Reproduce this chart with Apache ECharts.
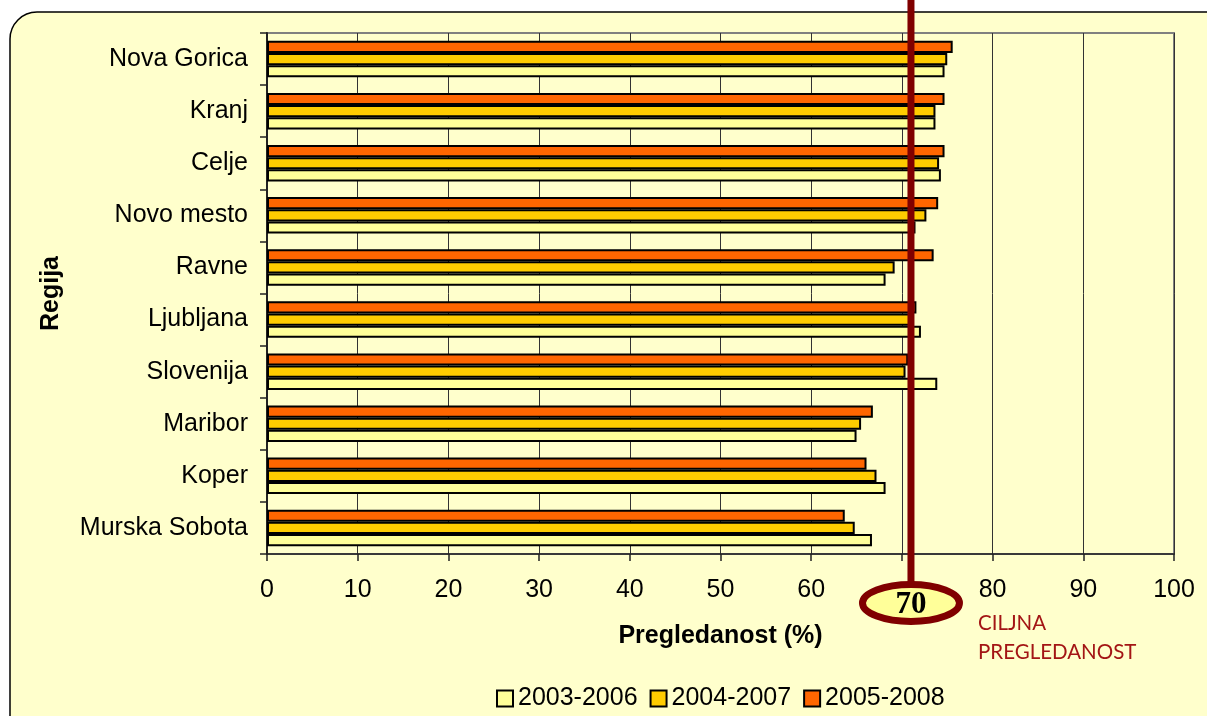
<!DOCTYPE html>
<html>
<head>
<meta charset="utf-8">
<script src="https://cdn.jsdelivr.net/npm/echarts@6/dist/echarts.min.js"></script>
<style>
html,body{margin:0;padding:0;background:#fff;}
#c{width:1207px;height:716px;}
</style>
</head>
<body>
<div id="c"></div>
<script>
const categories = ['Nova Gorica','Kranj','Celje','Novo mesto','Ravne','Ljubljana','Slovenija','Maribor','Koper','Murska Sobota'];
const seriesNames = ['2003-2006','2004-2007','2005-2008'];
const s2003 = [74.7, 73.7, 74.3, 71.5, 68.2, 72.1, 73.9, 65.0, 68.2, 66.7];
const s2004 = [75.0, 73.7, 74.1, 72.7, 69.2, 71.0, 70.4, 65.5, 67.2, 64.8];
const s2005 = [75.6, 74.7, 74.7, 74.0, 73.5, 71.6, 70.7, 66.8, 66.1, 63.7];
const xTicks = {min: 0, max: 100, interval: 10};
const targetLabel = '70';
const targetPos = 71;
const colors = ['#FFFF99', '#FFCC00', '#FF6600'];

const chart = echarts.init(document.getElementById('c'));
const font = 'Liberation Sans, Arial, sans-serif';

function mkSeries(name, data, color) {
  return {
    name: name, type: 'bar', data: data,
    barGap: '0%', barCategoryGap: '30%',
    itemStyle: {color: color, borderColor: '#000', borderWidth: 2},
    z: 3
  };
}

const option = {
  backgroundColor: 'transparent',
  animation: false,
  textStyle: {fontFamily: font},
  grid: {left: 267, right: 33, top: 33, bottom: 162, show: true, borderColor: '#808080', borderWidth: 2, backgroundColor: 'transparent'},
  legend: {
    bottom: 0, left: 491,
    data: seriesNames,
    icon: 'rect', itemWidth: 16, itemHeight: 16, itemGap: 12,
    textStyle: {fontSize: 25, color: '#000', fontFamily: font}
  },
  xAxis: {
    type: 'value', min: xTicks.min, max: xTicks.max, interval: xTicks.interval,
    name: 'Pregledanost (%)', nameLocation: 'middle', nameGap: 70,
    nameTextStyle: {fontSize: 25, fontWeight: 'bold', color: '#000', fontFamily: font},
    axisLine: {show: true, lineStyle: {color: '#222', width: 1.5}},
    axisTick: {show: true, length: 7, lineStyle: {color: '#222', width: 1.5}},
    axisLabel: {fontSize: 25, color: '#000', margin: 24, fontFamily: font,
      formatter: function (v) { return String(v) === targetLabel ? '' : String(v); }},
    splitLine: {show: true, lineStyle: {color: '#333', width: 1}}
  },
  yAxis: {
    type: 'category', data: categories, inverse: true,
    name: 'Regija', nameLocation: 'middle', nameGap: 203, nameRotate: 90,
    nameTextStyle: {fontSize: 25, fontWeight: 'bold', color: '#000', fontFamily: font},
    axisLine: {show: true, lineStyle: {color: '#222', width: 2}},
    axisTick: {show: true, length: 7, lineStyle: {color: '#222', width: 1.5}},
    axisLabel: {fontSize: 25, color: '#000', margin: 19, fontFamily: font},
    splitLine: {show: false}
  },
  series: [
    mkSeries(seriesNames[2], s2005, colors[2]),
    mkSeries(seriesNames[1], s2004, colors[1]),
    mkSeries(seriesNames[0], s2003, colors[0])
  ]
};
chart.setOption(option);

const tx = chart.convertToPixel({xAxisIndex: 0}, targetPos);
const ecx = tx, ecy = 603;
chart.setOption({
  graphic: [
    {type: 'rect', z: -10, silent: true,
     shape: {x: 10, y: 12, width: 1225, height: 740, r: 27},
     style: {fill: '#FFFFCC', stroke: '#000', lineWidth: 1.5}},
    {type: 'line', z: 100, silent: true,
     shape: {x1: ecx, y1: 0, x2: ecx, y2: ecy - 19},
     style: {stroke: '#800000', lineWidth: 7}},
    {type: 'ellipse', z: 101, silent: true,
     shape: {cx: ecx, cy: ecy, rx: 48.5, ry: 18.5},
     style: {fill: '#FFFF99', stroke: '#800000', lineWidth: 7}},
    {type: 'text', z: 102, silent: true,
     x: ecx, y: ecy + 2,
     style: {text: targetLabel, fontSize: 31, fontWeight: 'bold', fontFamily: 'Liberation Serif, Times New Roman, serif', fill: '#000', align: 'center', verticalAlign: 'middle'}},
    {type: 'text', z: 102, silent: true,
     x: 978, y: 638,
     style: {text: 'CILJNA\nPREGLEDANOST', fontSize: 20.5, lineHeight: 29, fontFamily: 'Lato, Liberation Sans, sans-serif', fill: '#A31515', align: 'left', verticalAlign: 'middle'}}
  ]
});
</script>
</body>
</html>
